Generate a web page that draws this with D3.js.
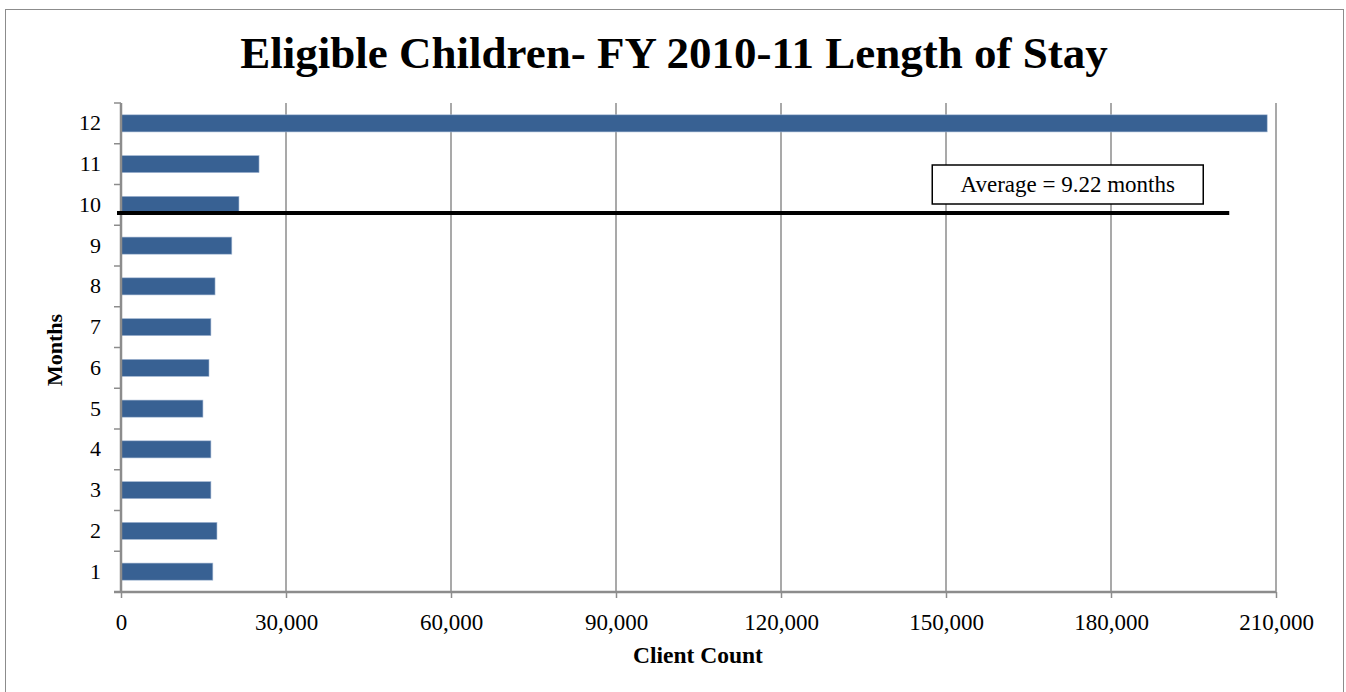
<!DOCTYPE html>
<html>
<head>
<meta charset="utf-8">
<script src="https://cdn.jsdelivr.net/npm/d3@7"></script>
<style>
  body { margin: 0; background: #fff; }
  svg { display: block; font-family: "Liberation Serif", "Times New Roman", serif; }
</style>
</head>
<body>
<div id="chart"></div>
<script>
// data
const months = [1, 2, 3, 4, 5, 6, 7, 8, 9, 10, 11, 12];
const clientCount = [16700, 17450, 16350, 16350, 14900, 16000, 16350, 17100, 20150, 21450, 25100, 208400];
const xTicks = [0, 30000, 60000, 90000, 120000, 150000, 180000, 210000];
const averageLabel = "Average = 9.22 months";
const averageLinePos = 9.8; // where the line is drawn on the month axis

const width = 1346, height = 692;
const margin = { left: 121, right: 70, top: 103, bottom: 100 };

const svg = d3.select("#chart").append("svg")
    .attr("width", width)
    .attr("height", height);

// outer chart border
svg.append("rect")
    .attr("x", 5.5).attr("y", 9.5)
    .attr("width", 1338).attr("height", 700)
    .attr("fill", "none")
    .attr("stroke", "#8c8c8c")
    .attr("stroke-width", 1);

const x = d3.scaleLinear()
    .domain([0, 210000])
    .range([margin.left, width - margin.right]);

const y = d3.scaleBand()
    .domain(months.slice().reverse())
    .range([margin.top, height - margin.bottom])
    .paddingInner(0.58)
    .paddingOuter(0.29);

// continuous version of the month axis for the average line
const yCont = d3.scaleLinear()
    .domain([12, 1])
    .range([y(12) + y.bandwidth() / 2, y(1) + y.bandwidth() / 2]);

// gridlines
svg.append("g")
    .selectAll("line")
    .data(xTicks.slice(1))
    .join("line")
    .attr("x1", d => x(d)).attr("x2", d => x(d))
    .attr("y1", margin.top).attr("y2", height - margin.bottom)
    .attr("stroke", "#8c8c8c")
    .attr("stroke-width", 1.5);

// bars
svg.append("g")
    .selectAll("rect")
    .data(months)
    .join("rect")
    .attr("x", x(0))
    .attr("y", d => y(d))
    .attr("width", (d, i) => x(clientCount[i]) - x(0))
    .attr("height", y.bandwidth())
    .attr("fill", "#386193")
    .attr("stroke", "#a9bcd6")
    .attr("stroke-width", 0.6);

// x axis
const xAxis = svg.append("g")
    .attr("transform", `translate(0,${height - margin.bottom})`)
    .call(d3.axisBottom(x).tickValues(xTicks).tickSize(6).tickPadding(16)
        .tickFormat(d3.format(",")));
xAxis.select(".domain").attr("stroke", "#8c8c8c").attr("stroke-width", 2.5)
    .attr("d", `M${x(0) - 7},0H${x(210000)}`);
xAxis.selectAll(".tick line").attr("stroke", "#8c8c8c").attr("stroke-width", 1.5);
xAxis.selectAll("text")
    .attr("font-family", "Liberation Serif, serif")
    .attr("font-size", 23)
    .attr("fill", "#000");

// y axis
const yAxis = svg.append("g")
    .attr("transform", `translate(${margin.left},0)`)
    .call(d3.axisLeft(y).tickSize(0).tickPadding(20));
yAxis.select(".domain").attr("stroke", "#8c8c8c").attr("stroke-width", 2.5)
    .attr("d", `M0,${margin.top}V${height - margin.bottom}`);
yAxis.selectAll("text")
    .attr("font-family", "Liberation Serif, serif")
    .attr("font-size", 22)
    .attr("fill", "#000");

// y tick marks sit between categories
const boundaries = d3.range(months.length + 1).map(i => margin.top + i * (height - margin.top - margin.bottom) / months.length);
svg.append("g")
    .selectAll("line")
    .data(boundaries)
    .join("line")
    .attr("x1", margin.left - 7).attr("x2", margin.left)
    .attr("y1", d => d).attr("y2", d => d)
    .attr("stroke", "#8c8c8c")
    .attr("stroke-width", 1.5);

// average line
svg.append("line")
    .attr("x1", x(0) - 4)
    .attr("x2", x(201500))
    .attr("y1", yCont(averageLinePos))
    .attr("y2", yCont(averageLinePos))
    .attr("stroke", "#000")
    .attr("stroke-width", 4);

// average label box
const boxX = x(147500), boxW = 271, boxH = 39, boxY = 165;
svg.append("rect")
    .attr("x", boxX).attr("y", boxY)
    .attr("width", boxW).attr("height", boxH)
    .attr("fill", "#fff")
    .attr("stroke", "#000")
    .attr("stroke-width", 1.5);
svg.append("text")
    .attr("x", boxX + boxW / 2)
    .attr("y", boxY + boxH / 2 + 7)
    .attr("text-anchor", "middle")
    .attr("font-size", 23)
    .text(averageLabel);

// title
svg.append("text")
    .attr("x", 674)
    .attr("y", 68)
    .attr("text-anchor", "middle")
    .attr("font-size", 45)
    .attr("font-weight", "bold")
    .text("Eligible Children- FY 2010-11 Length of Stay");

// axis titles
svg.append("text")
    .attr("x", 698)
    .attr("y", 663)
    .attr("text-anchor", "middle")
    .attr("font-size", 23.5)
    .attr("font-weight", "bold")
    .text("Client Count");

svg.append("text")
    .attr("transform", `translate(62,350) rotate(-90)`)
    .attr("text-anchor", "middle")
    .attr("font-size", 22)
    .attr("font-weight", "bold")
    .text("Months");
</script>
</body>
</html>
